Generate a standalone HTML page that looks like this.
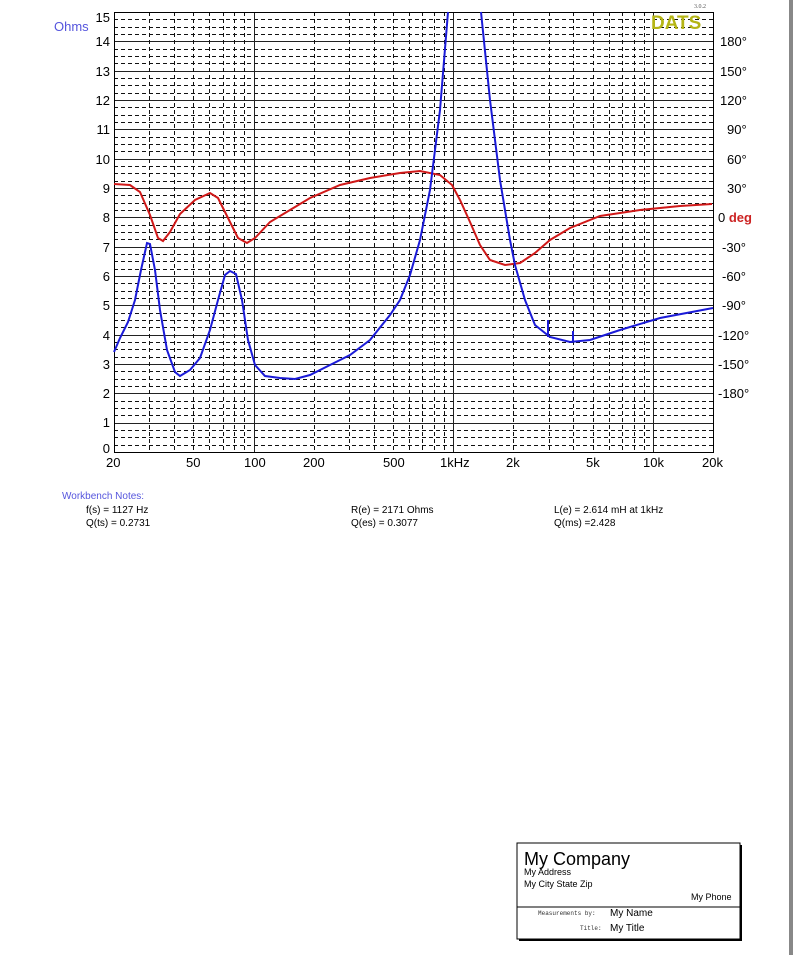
<!DOCTYPE html>
<html><head><meta charset="utf-8"><style>
html,body{margin:0;padding:0;background:#fff;}
body{width:793px;height:955px;overflow:hidden;position:relative;font-family:"Liberation Sans",sans-serif;}
.t{position:absolute;white-space:nowrap;}
</style></head><body>
<svg id="s" width="793" height="955" style="position:absolute;left:0;top:0" xmlns="http://www.w3.org/2000/svg">
<g id="grid" shape-rendering="crispEdges"></g>
<rect x="114.5" y="12.5" width="599" height="440" fill="none" stroke="#000" stroke-width="1" shape-rendering="crispEdges"/>
<polyline fill="none" stroke="#d01818" stroke-width="2" points="114,184 130,185 140,192 150,215 158,238 163,241 170,232 180,214 195,200 210,193 218,198 228,218 238,238 247,243 255,238 270,222 290,210 310,198 340,185 370,178 400,173 420,171 440,175 452,185 460,200 470,222 480,245 490,260 505,265 520,263 535,253 550,240 570,228 600,216 640,210 680,206 712,204"/>
<polyline fill="none" stroke="#1a1ad8" stroke-width="2" points="114,352 120,338 128,322 135,300 141,270 147,243 150,244 155,270 160,310 167,350 175,372 180,376 190,370 200,358 210,330 218,300 225,275 230,271 236,274 242,300 248,340 255,365 265,376 280,378 295,379 310,375 330,365 350,355 370,340 390,315 400,300 410,275 420,240 430,190 440,110 448,12"/>
<polyline fill="none" stroke="#1a1ad8" stroke-width="2" points="481,12 490,100 500,180 510,240 515,265 525,300 535,325 550,337 570,342 590,340 620,330 660,318 713,308"/>
<line x1="548" y1="320" x2="548" y2="337" stroke="#1a1ad8" stroke-width="2"/>
<line x1="573" y1="331" x2="573" y2="342" stroke="#1a1ad8" stroke-width="2"/>
<rect x="517" y="843" width="223" height="96" fill="#fff" stroke="#000" stroke-width="1"/>
<line x1="741" y1="845" x2="741" y2="941" stroke="#000" stroke-width="2"/>
<line x1="519" y1="940" x2="741" y2="940" stroke="#000" stroke-width="2"/>
<line x1="517" y1="907" x2="740" y2="907" stroke="#000" stroke-width="1"/>
<rect x="789" y="0" width="4" height="955" fill="#888"/>
</svg>
<script>
var g=document.getElementById('grid'),ns='http://www.w3.org/2000/svg';
function L(x1,y1,x2,y2,d){var l=document.createElementNS(ns,'line');l.setAttribute('x1',x1);l.setAttribute('y1',y1);l.setAttribute('x2',x2);l.setAttribute('y2',y2);l.setAttribute('stroke',d?'#111':'#222');l.setAttribute('stroke-width','1');if(d)l.setAttribute('stroke-dasharray','4,3');g.appendChild(l);}
function X(f){return Math.round(114+199.67*Math.log10(f/20))+0.5;}
for(var i=0;i<60;i++){var y=Math.round(452-29.33*i/4)+0.5;if(i%4==0)L(114,y,713,y,false);else L(114,y,713,y,true);}
var fs=[30,40,50,60,70,80,90,200,300,400,500,600,700,800,900,2000,3000,4000,5000,6000,7000,8000,9000];
fs.forEach(function(f){L(X(f),12,X(f),453,true);});
[100,1000,10000].forEach(function(f){L(X(f),12,X(f),453,false);});
</script>
<div class="t" style="left:54px;top:19px;font-size:13px;color:#5555dd">Ohms</div>
<div style="position:absolute;left:80px;top:0;width:30px;font-size:13px;text-align:right;line-height:15px">
<div class="t" style="right:0;top:10px">15</div><div class="t" style="right:0;top:34px">14</div><div class="t" style="right:0;top:64px">13</div><div class="t" style="right:0;top:93px">12</div><div class="t" style="right:0;top:122px">11</div><div class="t" style="right:0;top:152px">10</div><div class="t" style="right:0;top:181px">9</div><div class="t" style="right:0;top:210px">8</div><div class="t" style="right:0;top:240px">7</div><div class="t" style="right:0;top:269px">6</div><div class="t" style="right:0;top:298px">5</div><div class="t" style="right:0;top:328px">4</div><div class="t" style="right:0;top:357px">3</div><div class="t" style="right:0;top:386px">2</div><div class="t" style="right:0;top:415px">1</div><div class="t" style="right:0;top:441px">0</div>
</div>
<div style="font-size:13px;line-height:15px">
<div class="t" style="left:720px;top:34px">180°</div><div class="t" style="left:720px;top:64px">150°</div><div class="t" style="left:720px;top:93px">120°</div><div class="t" style="left:727px;top:122px">90°</div><div class="t" style="left:727px;top:152px">60°</div><div class="t" style="left:727px;top:181px">30°</div>
<div class="t" style="left:718px;top:210px">0 <b style="color:#cc2222">deg</b></div>
<div class="t" style="left:722px;top:240px">-30°</div><div class="t" style="left:722px;top:269px">-60°</div><div class="t" style="left:722px;top:298px">-90°</div><div class="t" style="left:718px;top:328px">-120°</div><div class="t" style="left:718px;top:357px">-150°</div><div class="t" style="left:718px;top:386px">-180°</div>
</div>
<div style="font-size:13px;line-height:15px">
<div class="t" style="left:106px;top:455px">20</div><div class="t" style="left:186px;top:455px">50</div><div class="t" style="left:244px;top:455px">100</div><div class="t" style="left:303px;top:455px">200</div><div class="t" style="left:383px;top:455px">500</div><div class="t" style="left:440px;top:455px">1kHz</div><div class="t" style="left:506px;top:455px">2k</div><div class="t" style="left:586px;top:455px">5k</div><div class="t" style="left:643px;top:455px">10k</div><div class="t" style="left:702px;top:455px">20k</div>
</div>
<div class="t" style="left:651px;top:13px;font-size:19px;font-weight:bold;color:#b5b515">DATS</div>
<div class="t" style="left:694px;top:4px;font-size:6px;font-family:'Liberation Serif',serif;color:#555">3.0.2</div>
<div style="font-size:10px;line-height:13px">
<div class="t" style="left:62px;top:490px;color:#5555dd">Workbench Notes:</div>
<div class="t" style="left:86px;top:504px">f(s) = 1127 Hz</div><div class="t" style="left:86px;top:517px">Q(ts) = 0.2731</div>
<div class="t" style="left:351px;top:504px">R(e) = 2171 Ohms</div><div class="t" style="left:351px;top:517px">Q(es) = 0.3077</div>
<div class="t" style="left:554px;top:504px">L(e) = 2.614 mH at 1kHz</div><div class="t" style="left:554px;top:517px">Q(ms) =2.428</div>
</div>
<div class="t" style="left:524px;top:849px;font-size:18px">My Company</div>
<div class="t" style="left:524px;top:867px;font-size:9px">My Address</div>
<div class="t" style="left:524px;top:879px;font-size:9px">My City State Zip</div>
<div class="t" style="left:691px;top:892px;font-size:9px">My Phone</div>
<div class="t" style="left:538px;top:910px;font-size:6px;font-family:'Liberation Mono',monospace;color:#333">Measurements by:</div>
<div class="t" style="left:610px;top:908px;font-size:10px">My Name</div>
<div class="t" style="left:580px;top:925px;font-size:6px;font-family:'Liberation Mono',monospace;color:#333">Title:</div>
<div class="t" style="left:610px;top:923px;font-size:10px">My Title</div>
</body></html>
